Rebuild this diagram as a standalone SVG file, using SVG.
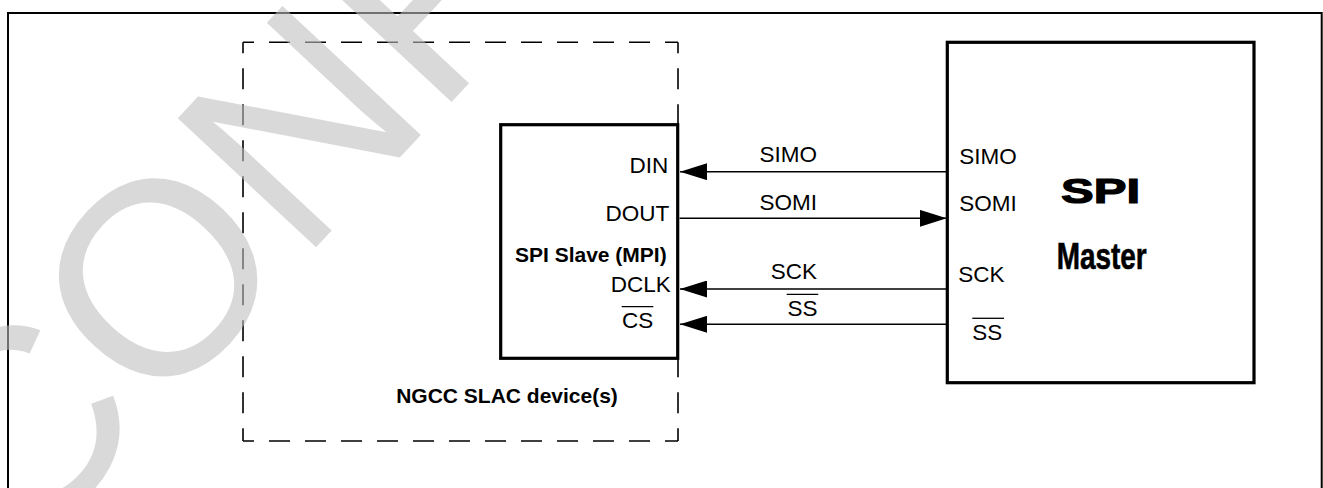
<svg xmlns="http://www.w3.org/2000/svg" width="1323" height="488" viewBox="0 0 1323 488">
<style>
text{font-family:"Liberation Sans",Arial,sans-serif;fill:#000}
.lbl{font-size:22.5px}
.bold{font-weight:bold}
.box{fill:none;stroke:#000;stroke-width:3.2}
.dash{fill:none;stroke:#000;stroke-width:1.6;stroke-dasharray:21 15;stroke-dashoffset:10}
.wire{fill:none;stroke:#000;stroke-width:1.5}
.ovl{stroke:#000;stroke-width:1.3}
.wm{font-family:"Liberation Sans",Arial,sans-serif;font-size:275px;fill:#bebebe;fill-opacity:0.59}
</style>
<defs>
<marker id="ah" markerWidth="27" markerHeight="17" refX="27" refY="8.5" orient="auto" markerUnits="userSpaceOnUse">
<path d="M0,0 L27,8.5 L0,17 Z" fill="#000"/>
</marker>
</defs>
<rect width="1323" height="488" fill="#fff"/>
<g id="frame">
<path d="M8,488 V13 H1321.7 V488" fill="none" stroke="#000" stroke-width="2"/>
</g>
<g id="ngcc-device">
<line class="dash" x1="243" y1="42.3" x2="678" y2="42.3"/>
<line class="dash" x1="678" y1="42.3" x2="678" y2="441"/>
<line class="dash" x1="243" y1="441" x2="678" y2="441"/>
<line class="dash" x1="243" y1="42.3" x2="243" y2="441"/>
<text class="bold" x="507" y="403.3" font-size="21" text-anchor="middle">NGCC SLAC device(s)</text>
</g>
<g id="spi-slave">
<rect class="box" x="500.7" y="124.7" width="177" height="233.6"/>
<text class="lbl" x="668.3" y="173.3" text-anchor="end">DIN</text>
<text class="lbl" x="669.3" y="220.7" text-anchor="end">DOUT</text>
<text class="bold" x="666.7" y="261.7" font-size="21" text-anchor="end">SPI Slave (MPI)</text>
<text class="lbl" x="670.7" y="291.7" text-anchor="end">DCLK</text>
<text class="lbl" x="653.3" y="328.3" text-anchor="end">CS</text>
<line class="ovl" x1="621.7" y1="306.7" x2="653.3" y2="306.7"/>
</g>
<g id="spi-master">
<rect class="box" x="947.3" y="42.3" width="306.7" height="340.4"/>
<text class="lbl" x="959.3" y="164.3">SIMO</text>
<text class="lbl" x="959.3" y="211">SOMI</text>
<text class="lbl" x="958.3" y="281.7">SCK</text>
<text class="lbl" x="972.3" y="340">SS</text>
<line class="ovl" x1="972.3" y1="318.3" x2="1004" y2="318.3"/>
<text class="bold" x="1061" y="202.5" font-size="34.5" textLength="79" lengthAdjust="spacingAndGlyphs" stroke="#000" stroke-width="1.2">SPI</text>
<text class="bold" x="1056.7" y="269.3" font-size="37.7" textLength="90" lengthAdjust="spacingAndGlyphs" stroke="#000" stroke-width="0.6">Master</text>
</g>
<g id="connectors">
<line class="wire" x1="947" y1="171.7" x2="680" y2="171.7" marker-end="url(#ah)"/>
<line class="wire" x1="679.5" y1="218.3" x2="946.7" y2="218.3" marker-end="url(#ah)"/>
<line class="wire" x1="947" y1="289" x2="680" y2="289" marker-end="url(#ah)"/>
<line class="wire" x1="947" y1="324.3" x2="680" y2="324.3" marker-end="url(#ah)"/>
<text class="lbl" x="788.3" y="162.3" text-anchor="middle">SIMO</text>
<text class="lbl" x="788.3" y="210" text-anchor="middle">SOMI</text>
<text class="lbl" x="793.8" y="279" text-anchor="middle">SCK</text>
<text class="lbl" x="802.5" y="315.7" text-anchor="middle">SS</text>
<line class="ovl" x1="786.7" y1="294.3" x2="818.3" y2="294.3"/>
</g>
<g id="watermark">
<text class="wm" transform="translate(19.4,565.5) rotate(-47)">CONFIDENTIAL</text>
</g>
</svg>
